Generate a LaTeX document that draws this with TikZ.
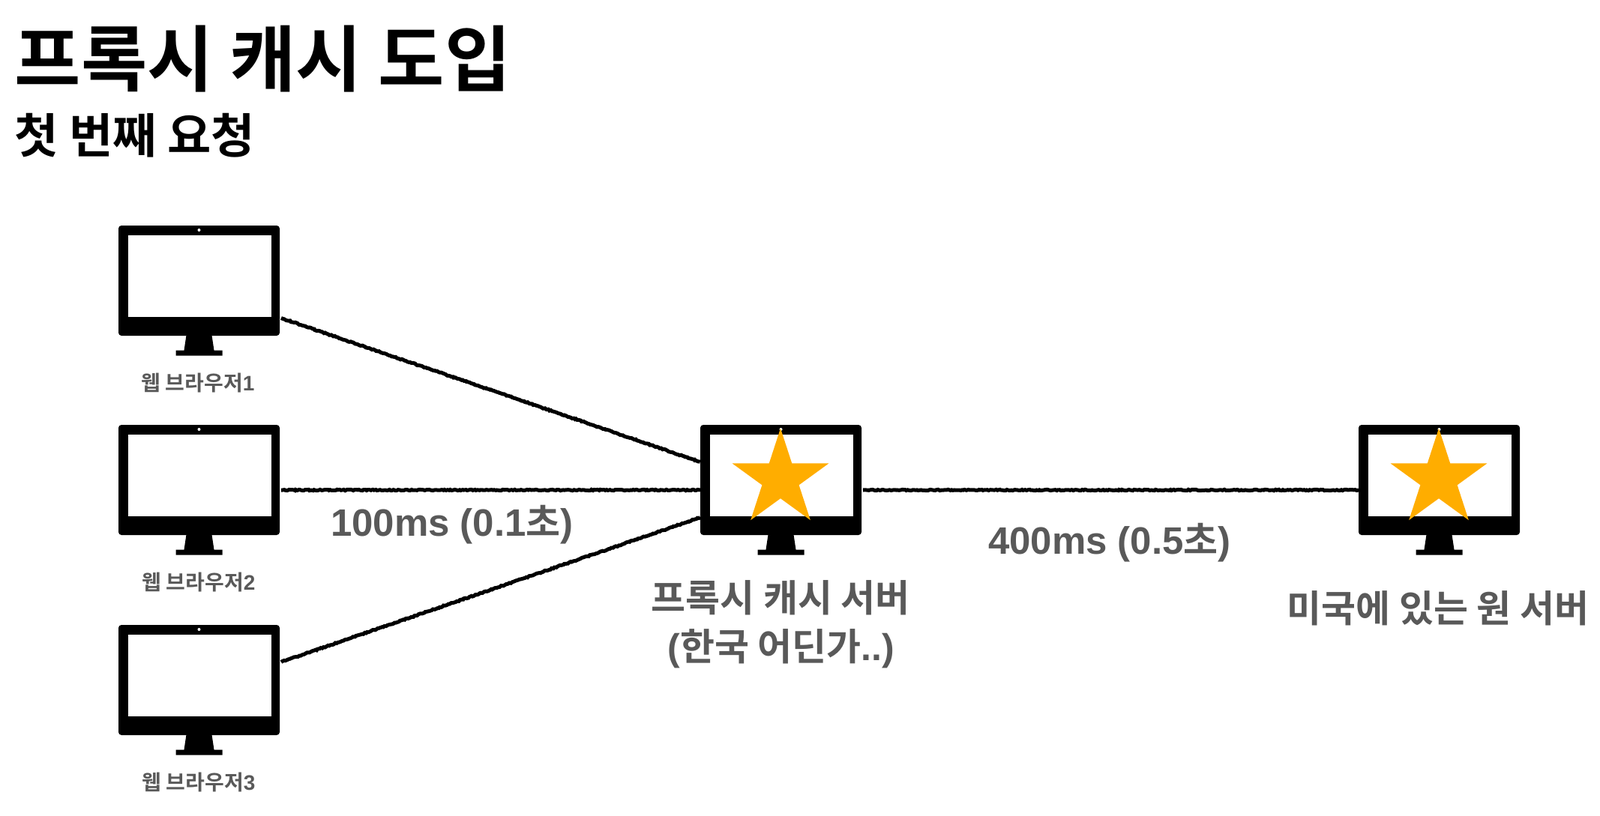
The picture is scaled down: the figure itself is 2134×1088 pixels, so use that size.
\documentclass[tikz,border=0pt]{standalone}
\usepackage{fontspec}
\usetikzlibrary{shapes.geometric,calc,decorations.pathmorphing}
\newfontfamily\krfont{Noto Sans CJK KR Bold}
\newfontfamily\latfont{Liberation Sans Bold}
\definecolor{labelgray}{HTML}{595959}
\definecolor{staror}{HTML}{FFAD00}
\tikzset{
  x=1pt,y=-1pt,
  body/.style={fill=black,rounded corners=4pt,minimum width=215pt,minimum height=147pt,inner sep=0pt,outer sep=0pt},
  starmark/.style={star,star points=5,star point ratio=2.618,fill=staror,minimum size=135.5pt,inner sep=0pt,outer sep=0pt},
  wire/.style={draw=black,line width=5pt,decorate,decoration={random steps,segment length=2pt,amplitude=0.7pt}},
  title/.style={inner sep=0pt,anchor=west,font=\krfont\fontsize{96}{96}\selectfont},
  subtitle/.style={inner sep=0pt,anchor=west,font=\krfont\fontsize{63.4}{63.4}\selectfont},
  small/.style={inner sep=0pt,text=labelgray,font=\krfont\fontsize{28}{28}\selectfont},
  big/.style={inner sep=0pt,text=labelgray,font=\krfont\fontsize{50}{50}\selectfont},
}
\newcommand{\monitor}[3]{%
  \node[body] (#1) at (#2,#3) {};
  \begin{scope}[shift={(#2,#3)}]
    \fill[white] (-95,-61) rectangle (96,48);
    \fill[white] (0,-67.5) circle (2);
    \fill[black] (-17,73) -- (17,73) -- (20,93) -- (31,93) -- (31,100) -- (-31,100) -- (-31,93) -- (-20,93) -- cycle;
  \end{scope}}
\newcommand{\lat}[1]{{\latfont\fontsize{51}{51}\selectfont #1}}
\newcommand{\lats}[1]{{\latfont #1}}
\begin{document}
\begin{tikzpicture}
\useasboundingbox (0,0) rectangle (2134,1088);
\fill[white] (0,0) rectangle (2134,1088);
\node[title] (t1) at (19.5,79) {프록시 캐시 도입};
\node[subtitle] (t2) at (19.5,181) {첫 번째 요청};
\monitor{b1}{265.5}{374.5}
\monitor{b2}{265.5}{640.5}
\monitor{b3}{265.5}{907.5}
\monitor{px}{1041.5}{640.5}
\monitor{og}{1919.5}{640.5}
\node[starmark] (s1) at (1041,639.3) {};
\node[starmark] (s2) at (1919,639.3) {};
\node[small] (l1) at (264,511) {웹 브라우저\lats{1}};
\node[small] (l2) at (265,777) {웹 브라우저\lats{2}};
\node[small] (l3) at (265,1044) {웹 브라우저\lats{3}};
\node[big] (m1) at (603,700) {\lat{100ms (0.1}초\lat{)}};
\node[big] (m2) at (1480,724) {\lat{400ms (0.5}초\lat{)}};
\node[big] (p1) at (1041,798) {프록시 캐시 서버};
\node[big] (p2) at (1042,866) {{\latfont (}한국 어딘가{\latfont ..)}};
\node[big] (o1) at (1918,812) {미국에 있는 원 서버};
\path[wire] ($(b1.east)+(2,50)$) -- ($(px.west)+(0,-24)$);
\path[wire] ($(b2.east)+(2,13.5)$) -- ($(px.west)+(0,13.5)$);
\path[wire] ($(b3.east)+(2,-24)$) -- ($(px.west)+(0,50)$);
\path[wire] ($(px.east)+(2,13.5)$) -- ($(og.west)+(0,13.5)$);
\end{tikzpicture}
\end{document}
